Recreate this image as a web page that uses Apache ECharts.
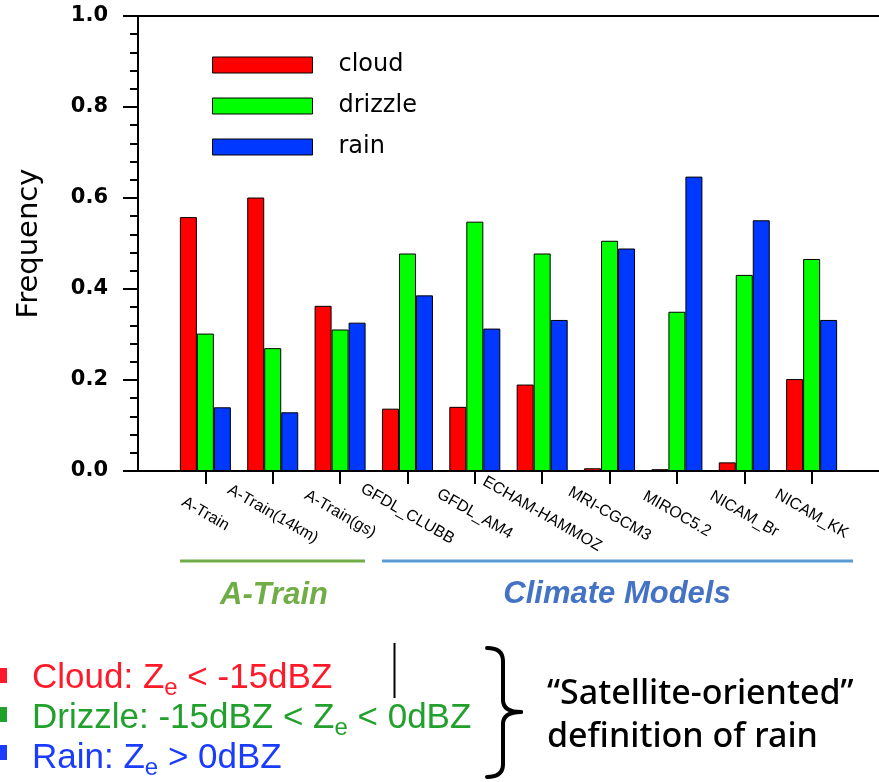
<!DOCTYPE html>
<html>
<head>
<meta charset="utf-8">
<script src="https://cdn.jsdelivr.net/npm/echarts@6/dist/echarts.min.js"></script>
<style>
html,body{margin:0;padding:0;background:#fff;}
#c{width:879px;height:782px;}
</style>
</head>
<body>
<div id="c"></div>
<script>
const categories = ['A-Train','A-Train(14km)','A-Train(gs)','GFDL_CLUBB','GFDL_AM4','ECHAM-HAMMOZ','MRI-CGCM3','MIROC5.2','NICAM_Br','NICAM_KK'];
const cloud   = [0.558,0.601,0.363,0.137,0.141,0.190,0.006,0.004,0.019,0.202];
const drizzle = [0.302,0.270,0.311,0.478,0.548,0.478,0.506,0.350,0.431,0.466];
const rain    = [0.140,0.129,0.326,0.386,0.313,0.332,0.489,0.647,0.551,0.332];
const seriesNames = ['cloud','drizzle','rain'];
const seriesColors = ['#ff0000','#00ff00','#0038ff'];
const groupLabels = ['A-Train','Climate Models'];
const definitionLines = [
  ['Cloud: Z','e',' < -15dBZ'],
  ['Drizzle: -15dBZ < Z','e',' < 0dBZ'],
  ['Rain: Z','e',' > 0dBZ']
];
const noteText = '\u201cSatellite-oriented\u201d\ndefinition of rain';

const axisCats = [''].concat(categories, ['']);
const pad = arr => [null].concat(arr, [null]);
const seriesData = [cloud, drizzle, rain];

const chart = echarts.init(document.getElementById('c'));
const FONT = 'DejaVu Sans';

const defColors = ['#ff1a2a','#22a02c','#1a3cff'];
const richStyles = {};
const keys = ['r','g','b'];
let defText = definitionLines.map((parts, i) => {
  const k = keys[i];
  richStyles[k] = {fontFamily:'Liberation Sans', fontSize:35, fill:defColors[i], lineHeight:40, verticalAlign:'middle'};
  richStyles[k+'s'] = {fontFamily:'Liberation Sans', fontSize:24, fill:defColors[i], lineHeight:40, verticalAlign:'middle', padding:[21,0,0,0]};
  return '{'+k+'|'+parts[0]+'}{'+k+'s|'+parts[1]+'}{'+k+'|'+parts[2]+'}';
}).join('\n');

const braceStyle = {stroke:'#000', lineWidth:4, fill:null, lineCap:'round'};

const option = {
  animation:false,
  backgroundColor:'#fff',
  grid:{left:138, top:16, width:745, height:455, containLabel:false},
  legend:{
    data:seriesNames, orient:'vertical', left:212, top:53, padding:0,
    itemWidth:100, itemHeight:16, itemGap:17, icon:'rect', selectedMode:false,
    itemStyle:{borderColor:'#000', borderWidth:1},
    textStyle:{fontFamily:FONT, fontSize:24, color:'#000', padding:[0,0,0,21]}
  },
  xAxis:[{
    type:'category', data:axisCats, boundaryGap:false, position:'bottom',
    axisLine:{show:true, lineStyle:{color:'#000', width:2}},
    axisTick:{show:true, length:13, lineStyle:{color:'#000', width:2}, interval:(i,v)=>v!==''},
    axisLabel:{show:true, interval:(i,v)=>v!=='', rotate:-30, align:'center', verticalAlign:'middle',
      margin:43, fontFamily:'Liberation Sans', fontSize:16, color:'#000'},
    splitLine:{show:false}
  },{
    type:'category', data:axisCats, boundaryGap:false, position:'top',
    axisLine:{show:true, lineStyle:{color:'#000', width:2}},
    axisTick:{show:false}, axisLabel:{show:false}, splitLine:{show:false}
  }],
  yAxis:{
    type:'value', min:0, max:1, interval:0.2,
    name:'Frequency', nameLocation:'middle', nameGap:94, nameRotate:90,
    nameTextStyle:{fontFamily:FONT, fontSize:29, color:'#000'},
    axisLine:{show:true, lineStyle:{color:'#000', width:2}},
    axisTick:{show:true, length:15, lineStyle:{color:'#000', width:2}},
    minorTick:{show:true, splitNumber:5, length:8, lineStyle:{color:'#000', width:2}},
    axisLabel:{margin:30, fontFamily:FONT, fontWeight:'bold', fontSize:21, color:'#000', formatter:v=>v.toFixed(1)},
    splitLine:{show:false}
  },
  series: seriesNames.map((n,i)=>({
    name:n, type:'bar', data:pad(seriesData[i]), barWidth:17, barGap:'0%',
    itemStyle:{color:seriesColors[i], borderColor:'#000', borderWidth:1}
  })),
  graphic:[
    {type:'line', shape:{x1:180,y1:561,x2:365,y2:561}, style:{stroke:'#70ad47', lineWidth:3}},
    {type:'line', shape:{x1:382,y1:561,x2:853,y2:561}, style:{stroke:'#5b9bd5', lineWidth:3}},
    {type:'text', x:274, y:595, style:{text:groupLabels[0], fill:'#70ad47', font:'italic bold 31px "Liberation Sans"', align:'center', verticalAlign:'middle'}},
    {type:'text', x:617, y:594, style:{text:groupLabels[1], fill:'#4472c4', font:'italic bold 31px "Liberation Sans"', align:'center', verticalAlign:'middle'}},
    {type:'rect', shape:{x:-8,y:668,width:15,height:15}, style:{fill:defColors[0]}},
    {type:'rect', shape:{x:-8,y:707,width:15,height:15}, style:{fill:defColors[1]}},
    {type:'rect', shape:{x:-8,y:745,width:15,height:15}, style:{fill:defColors[2]}},
    {type:'text', x:32, y:658, style:{text:defText, rich:richStyles, align:'left', verticalAlign:'top'}},
    {type:'line', shape:{x1:394.5,y1:643,x2:394.5,y2:698}, style:{stroke:'#000', lineWidth:2}},
    {type:'bezierCurve', shape:{x1:487,y1:648,cpx1:503,cpy1:648,x2:503,y2:661}, style:braceStyle},
    {type:'line', shape:{x1:503,y1:661,x2:503,y2:700}, style:braceStyle},
    {type:'bezierCurve', shape:{x1:503,y1:700,cpx1:503,cpy1:712,x2:521,y2:712}, style:braceStyle},
    {type:'bezierCurve', shape:{x1:521,y1:712,cpx1:503,cpy1:712,x2:503,y2:724}, style:braceStyle},
    {type:'line', shape:{x1:503,y1:724,x2:503,y2:764}, style:braceStyle},
    {type:'bezierCurve', shape:{x1:503,y1:764,cpx1:503,cpy1:777,x2:487,y2:777}, style:braceStyle},
    {type:'text', x:547, y:716, style:{text:noteText, fill:'#000', fontFamily:'Noto Sans', fontWeight:500, fontSize:34, lineHeight:43, align:'left', verticalAlign:'middle'}}
  ]
};
chart.setOption(option);
</script>
</body>
</html>
